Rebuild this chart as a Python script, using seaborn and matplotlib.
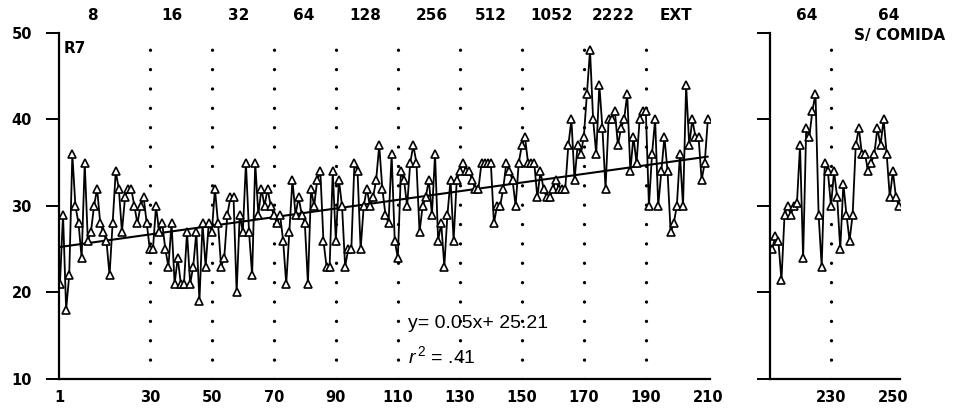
import numpy as np
import pandas as pd
import matplotlib
matplotlib.use("Agg")
import matplotlib.pyplot as plt
import seaborn as sns

# ---------------- data ----------------
phase_names = ["8", "16", "32", "64", "128", "256", "512", "1052", "2222", "EXT"]
phase_bounds = [30, 50, 70, 90, 110, 130, 150, 170, 190]

p1 = [21, 29, 18, 22, 36, 30, 28, 24, 35, 26, 27, 30, 32, 28, 27, 26, 22, 28, 34, 32,
      27, 31, 32, 32, 30, 28, 30, 31, 28, 25]
p2 = [25, 30, 27, 28, 25, 23, 28, 21, 24, 21, 21, 27, 21, 23, 27, 19, 28, 23, 28, 27]
p3 = [32, 28, 23, 24, 29, 31, 31, 20, 29, 27, 35, 27, 22, 35, 29, 32, 30, 32, 30, 29]
p4 = [28, 29, 26, 21, 27, 33, 29, 31, 29, 28, 21, 32, 30, 33, 34, 26, 23, 23, 34, 26]
p5 = [33, 30, 23, 25, 25, 35, 34, 25, 30, 32, 30, 31, 33, 37, 32, 29, 28, 36, 26, 24]
p6 = [34, 33, 30, 35, 37, 35, 27, 30, 31, 33, 29, 36, 26, 28, 23, 29, 33, 26, 33, 34]
p7 = [35, 34, 34, 33, 32, 32, 35, 35, 35, 35, 28, 30, 30, 32, 35, 34, 33, 30, 35, 37]
p8 = [38, 35, 35, 35, 31, 34, 32, 31, 31, 32, 33, 32, 32, 32, 37, 40, 33, 37, 36, 38]
p9 = [43, 48, 40, 36, 44, 39, 32, 40, 40, 41, 37, 39, 40, 43, 34, 38, 35, 40, 41, 41]
p10 = [30, 36, 40, 30, 34, 38, 34, 27, 28, 30, 36, 30, 44, 37, 40, 38, 38, 33, 35, 40]

right_vals = [25, 26.5, 26, 21.4, 29, 30, 29, 30, 30.3, 37, 24, 39, 38, 41, 43, 29, 23,
              35, 34, 30, 34, 31, 25, 32.6, 29, 26, 29, 37, 39, 36, 36, 34, 35, 36, 39,
              37, 40, 36, 31, 34, 31, 30]
right_start = 211
right_bound = 230
right_names = ["64", "64", "S/ COMIDA"]

slope = 0.05
intercept = 25.21

left_xticks = [1, 30, 50, 70, 90, 110, 130, 150, 170, 190, 210]
right_xticks = [230, 250]
yticks = [10, 20, 30, 40, 50]

left_vals = p1 + p2 + p3 + p4 + p5 + p6 + p7 + p8 + p9 + p10
df_left = pd.DataFrame({"session": np.arange(1, len(left_vals) + 1), "value": left_vals})
df_right = pd.DataFrame({"session": np.arange(right_start, right_start + len(right_vals)),
                         "value": right_vals})

# ---------------- style ----------------
sns.set_style("ticks")
plt.rcParams["font.family"] = ["DejaVu Sans"]
plt.rcParams["text.color"] = "black"
plt.rcParams["xtick.color"] = "black"
plt.rcParams["ytick.color"] = "black"
plt.rcParams["axes.labelcolor"] = "black"
plt.rcParams["mathtext.fontset"] = "custom"
plt.rcParams["mathtext.rm"] = "Liberation Sans"
plt.rcParams["mathtext.it"] = "Liberation Sans:italic"

W, H = 955, 411
fig = plt.figure(figsize=(W / 100, H / 100), dpi=100)
ax_l = fig.add_axes([59 / W, 1 - 379 / H, 651 / W, 346 / H])
ax_r = fig.add_axes([770 / W, 1 - 379 / H, 130 / W, 346 / H])

line_kw = dict(color="black", marker="^", markersize=5.5, markerfacecolor="white",
               markeredgecolor="black", markeredgewidth=1.2, linewidth=1.3)

sns.lineplot(data=df_left, x="session", y="value", ax=ax_l, **line_kw)
sns.lineplot(data=df_right, x="session", y="value", ax=ax_r, **line_kw)

# regression line
xr = np.array([df_left["session"].min(), df_left["session"].max()])
ax_l.plot(xr, slope * xr + intercept, color="black", lw=1.5, zorder=1)

# dotted phase lines
dot_kw = dict(color="black", lw=2.4, linestyle=(0, (0.01, 5.8)), dash_capstyle="round", zorder=0)
for b in phase_bounds:
    ax_l.axvline(b, **dot_kw)
ax_r.axvline(right_bound, **dot_kw)

for ax in (ax_l, ax_r):
    ax.set_ylim(10, 50)
    ax.set_xlabel("")
    ax.set_ylabel("")
    for s in ("top", "right"):
        ax.spines[s].set_visible(False)
    for s in ("left", "bottom"):
        ax.spines[s].set_linewidth(1.6)
        ax.spines[s].set_color("black")
    ax.set_yticks(yticks)
    ax.tick_params(axis="y", left=True, direction="out", length=9.5, width=1.4, pad=10,
                   labelsize=10.5, color="black", labelcolor="black")
    ax.tick_params(axis="x", bottom=False, length=0, pad=8, labelsize=10.5,
                   labelcolor="black")

ax_l.set_xlim(0.7, 210.7)
ax_r.set_xlim(210.3, 252.3)
ax_l.set_xticks(left_xticks)
ax_r.set_xticks(right_xticks)
ax_l.set_yticklabels([str(v) for v in yticks], fontweight="bold")
ax_r.set_yticklabels([])
for lab in ax_l.get_xticklabels() + ax_r.get_xticklabels():
    lab.set_fontweight("bold")

# phase labels on top
label_x = [11.6, 37.1, 58.7, 79.7, 99.4, 121, 140, 159.7, 179.4, 199.7]
for name, xv in zip(phase_names, label_x):
    ax_l.text(xv, 1.052, name, transform=ax_l.get_xaxis_transform(), ha="center",
              va="center", fontsize=11, fontweight="bold")
ax_r.text(222.3, 1.052, right_names[0], transform=ax_r.get_xaxis_transform(),
          ha="center", va="center", fontsize=11, fontweight="bold")
ax_r.text(248.7, 1.052, right_names[1], transform=ax_r.get_xaxis_transform(),
          ha="center", va="center", fontsize=11, fontweight="bold")
ax_r.text(252.3, 0.994, right_names[2], transform=ax_r.get_xaxis_transform(),
          ha="center", va="center", fontsize=11, fontweight="bold", clip_on=False)

ax_l.text(2.3, 0.955, "R7", transform=ax_l.get_xaxis_transform(), ha="left", va="center",
          fontsize=11, fontweight="bold")

ax_l.text(113.3, 16.4, f"y= {slope:.2f}x+ {intercept:.2f}", ha="left", va="center",
          fontsize=14, family=["Liberation Sans", "DejaVu Sans"])
ax_l.text(113.3, 12.6, r"$\mathit{r}^{\,2}$" + " = .41", ha="left", va="center",
          fontsize=14, family=["Liberation Sans", "DejaVu Sans"])

fig.savefig("out.png", dpi=100, facecolor="white")
